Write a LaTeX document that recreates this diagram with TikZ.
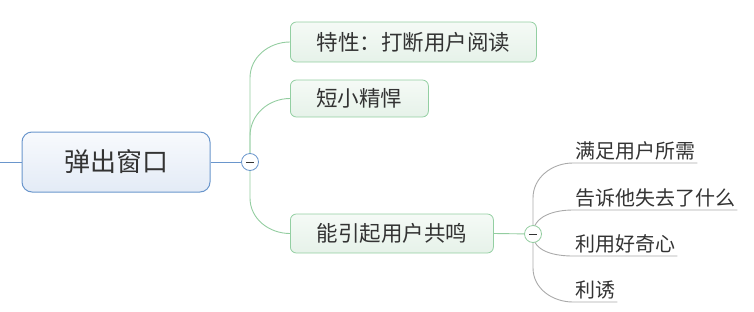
\documentclass[tikz,border=0pt]{standalone}
\usepackage{fontspec}
\setmainfont{Noto Sans CJK SC}
\usetikzlibrary{positioning}
\pgfdeclarelayer{bg}
\pgfsetlayers{bg,main}
\definecolor{txt}{HTML}{333333}
\definecolor{blueb}{HTML}{6A96CC}
\definecolor{bluet}{HTML}{F8FAFD}
\definecolor{blueu}{HTML}{E3EBF6}
\definecolor{greenb}{HTML}{93CFA2}
\definecolor{greent}{HTML}{F5FAF6}
\definecolor{greenu}{HTML}{E6F2E9}
\definecolor{greenl}{HTML}{93CDA0}
\definecolor{grayl}{HTML}{AAAAAA}
\tikzset{
  mainbox/.style={draw=blueb, line width=1pt, rounded corners=10pt, top color=bluet, bottom color=blueu,
    text=txt, font=\fontsize{26}{26}\selectfont, minimum width=188pt, minimum height=60pt, inner sep=0pt},
  subbox/.style={draw=greenb, line width=0.8pt, rounded corners=6pt, top color=greent, bottom color=greenu,
    text=txt, font=\fontsize{21.5}{21.5}\selectfont, inner sep=0pt, anchor=west},
  leaf/.style={text=txt, font=\fontsize{20}{20}\selectfont, inner xsep=2pt, inner ysep=3pt, anchor=south west},
  togg/.style={circle, draw=#1, line width=0.8pt, fill=white, minimum size=17pt, inner sep=0pt},
  gline/.style={draw=greenl, line width=0.9pt},
  yline/.style={draw=grayl, line width=0.9pt},
  bline/.style={draw=blueb, line width=1pt},
}
\begin{document}
\begin{tikzpicture}[x=1pt,y=-1pt]
\useasboundingbox (0,0) rectangle (754,311);
\node[mainbox] (main) at (116,162) {弹出窗口};
\coordinate (left) at (0,162);
\node[togg=blueb] (c1) at (250,162) {};
\node[subbox, minimum width=246pt, minimum height=40pt] (n1) at (290,42) {特性：打断用户阅读};
\node[subbox, minimum width=138pt, minimum height=37pt] (n2) at (290,98.5) {短小精悍};
\node[subbox, minimum width=203pt, minimum height=39pt] (n3) at (290,233.5) {能引起用户共鸣};
\node[togg=greenl] (c2) at (533,234) {};
\node[leaf] (u1) at (573,163) {满足用户所需};
\node[leaf] (u2) at (573,210) {告诉他失去了什么};
\node[leaf] (u3) at (573,256) {利用好奇心};
\node[leaf] (u4) at (573,302) {利诱};
\begin{pgfonlayer}{bg}
\draw[bline] (left) -- (main.west);
\draw[bline] (main.east) -- (c1.center);
\draw[gline] (c1.center) -- (250,78) to[out=90,in=180] (n1.west);
\draw[gline] (c1.center) -- (250,136) to[out=90,in=180] (n2.west);
\draw[gline] (c1.center) -- (250,198) to[out=-90,in=180] (n3.west);
\draw[gline] (n3.east) -- (c2.center);
\draw[yline] (c2.center) -- (533,198) to[out=90,in=180] (u1.south west) -- (u1.south east);
\draw[yline] (c2.center) to[out=90,in=180] (u2.south west) -- (u2.south east);
\draw[yline] (c2.center) to[out=-90,in=180] (u3.south west) -- (u3.south east);
\draw[yline] (c2.center) -- (533,268) to[out=-90,in=180] (u4.south west) -- (u4.south east);
\end{pgfonlayer}
\draw[txt, line width=0.9pt] ([xshift=-4pt]c1.center) -- ([xshift=4pt]c1.center);
\draw[txt, line width=0.9pt] ([xshift=-4pt]c2.center) -- ([xshift=4pt]c2.center);
\end{tikzpicture}
\end{document}
